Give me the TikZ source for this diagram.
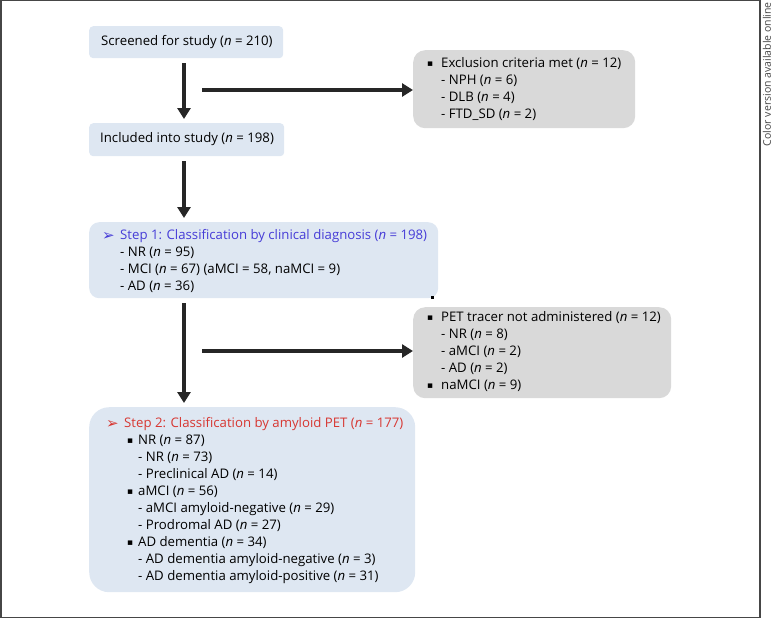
\documentclass[tikz,border=0pt]{standalone}
\usepackage{fontspec}
\setmainfont{Open Sans}
\newfontfamily\symfont{DejaVu Sans}
\usetikzlibrary{arrows.meta}
\definecolor{bluebox}{RGB}{222,231,242}
\definecolor{graybox}{RGB}{217,217,217}
\definecolor{steponeblue}{RGB}{70,60,215}
\definecolor{steptwored}{RGB}{215,55,50}
\definecolor{arrowdark}{RGB}{38,38,38}
\definecolor{framegray}{RGB}{70,70,70}
\newcommand{\nn}{\textit{n}}
\newcommand{\sqb}{{\symfont\fontsize{9}{10}\selectfont ▪}}
\newcommand{\arb}{{\symfont\fontsize{15}{16}\selectfont ➢}}
\begin{document}
\begin{tikzpicture}[x=1pt,y=-1pt,
  boxbase/.style={inner sep=0pt, anchor=north west},
  bluerect/.style={boxbase, fill=bluebox},
  grayrect/.style={boxbase, fill=graybox},
  txt/.style={anchor=west, inner sep=0pt, font=\fontsize{13.2}{15}\selectfont},
  bigarrow/.style={draw=arrowdark, line width=3.6pt, -{Triangle[width=13pt,length=11pt]}}
]
\useasboundingbox (0,0) rectangle (773,619);
% frame
\draw[framegray, line width=1.4pt] (1,0.7) -- (760,0.7) -- (760,617.5) -- (1,617.5) -- cycle;
\node[rotate=90, anchor=east, inner sep=0pt, text=framegray, font=\fontsize{10.5}{12}\selectfont] (cva) at (767,2) {Color version available online};

% boxes
\node[bluerect, rounded corners=4pt, minimum width=194pt, minimum height=32pt] (scr) at (89,26) {};
\node[bluerect, rounded corners=4pt, minimum width=195pt, minimum height=33pt] (inc) at (89,123) {};
\node[bluerect, rounded corners=10pt, minimum width=349pt, minimum height=76pt] (st1) at (89,222) {};
\node[grayrect, rounded corners=12pt, minimum width=222pt, minimum height=78pt] (exc) at (413,50) {};
\node[grayrect, rounded corners=12pt, minimum width=258pt, minimum height=91pt] (pet) at (413,307) {};
\node[bluerect, rounded corners=20pt, minimum width=326pt, minimum height=185pt] (st2) at (89,407) {};

% texts
\node[txt] (t1) at (101,42) {Screened for study (\nn{} = 210)};
\node[txt] (t2) at (100,139.5) {Included into study (\nn{} = 198)};

\node[txt, text=steponeblue] (s1a) at (102,236) {\arb};
\node[txt, text=steponeblue] (s1b) at (120,236) {Step 1: Classification by clinical diagnosis (\nn{} = 198)};
\node[txt] (s1c) at (120,253) {- NR (\nn{} = 95)};
\node[txt] (s1d) at (120,270) {- MCI (\nn{} = 67) (aMCI = 58, naMCI = 9)};
\node[txt] (s1e) at (120,287) {- AD (\nn{} = 36)};

\node[txt] (e0) at (427,64) {\sqb};
\node[txt] (e1) at (441,64) {Exclusion criteria met (\nn{} = 12)};
\node[txt] (e2) at (441,81) {- NPH (\nn{} = 6)};
\node[txt] (e3) at (441,98) {- DLB (\nn{} = 4)};
\node[txt] (e4) at (441,115) {- FTD\_SD (\nn{} = 2)};

\node[txt] (p0) at (427,318) {\sqb};
\node[txt] (p1) at (441,318) {PET tracer not administered (\nn{} = 12)};
\node[txt] (p2) at (441,335) {- NR (\nn{} = 8)};
\node[txt] (p3) at (441,352) {- aMCI (\nn{} = 2)};
\node[txt] (p4) at (441,369) {- AD (\nn{} = 2)};
\node[txt] (p5) at (427,386) {\sqb};
\node[txt] (p6) at (441,386) {naMCI (\nn{} = 9)};

\node[fill=black, inner sep=0pt, minimum size=3pt] (dot) at (432,297) {};

\node[txt, text=steptwored] (s2a) at (106,424) {\arb};
\node[txt, text=steptwored] (s2b) at (124,424) {Step 2: Classification by amyloid PET (\nn{} = 177)};
\node[txt] (b1) at (127,441) {\sqb};
\node[txt] (b2) at (138,441) {NR (\nn{} = 87)};
\node[txt] (b3) at (138,458) {- NR (\nn{} = 73)};
\node[txt] (b4) at (138,475) {- Preclinical AD (\nn{} = 14)};
\node[txt] (b5) at (127,492) {\sqb};
\node[txt] (b6) at (138,492) {aMCI (\nn{} = 56)};
\node[txt] (b7) at (138,509) {- aMCI amyloid-negative (\nn{} = 29)};
\node[txt] (b8) at (138,526) {- Prodromal AD (\nn{} = 27)};
\node[txt] (b9) at (127,543) {\sqb};
\node[txt] (b10) at (138,543) {AD dementia (\nn{} = 34)};
\node[txt] (b11) at (138,560) {- AD dementia amyloid-negative (\nn{} = 3)};
\node[txt] (b12) at (138,577) {- AD dementia amyloid-positive (\nn{} = 31)};

% arrow coordinates
\coordinate (a1s) at (184,63);
\coordinate (a1e) at (184,119);
\coordinate (a2s) at (184,161);
\coordinate (a2e) at (184,218);
\coordinate (a3s) at (184,303);
\coordinate (a3e) at (184,403);
\coordinate (h1s) at (202,90);
\coordinate (h2s) at (202,351);
\draw[bigarrow] (a1s) -- (a1e);
\draw[bigarrow] (a2s) -- (a2e);
\draw[bigarrow] (a3s) -- (a3e);
\draw[bigarrow] (h1s) -- (h1s -| exc.west);
\draw[bigarrow] (h2s) -- (h2s -| pet.west);
\end{tikzpicture}
\end{document}
